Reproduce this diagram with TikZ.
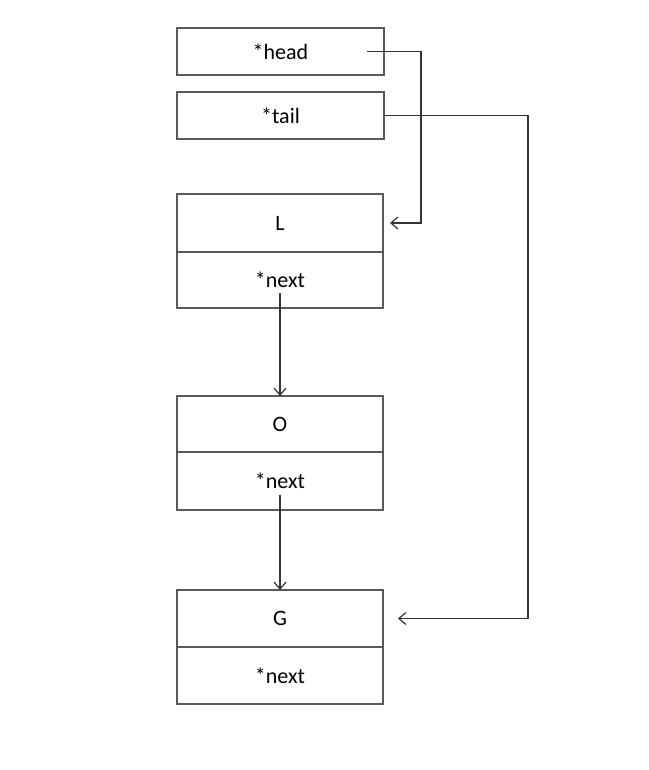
\documentclass[tikz,border=0pt]{standalone}
\usepackage{fontspec}
\setmainfont{Carlito}
\usetikzlibrary{arrows.meta,calc}
\begin{document}
\begin{tikzpicture}[x=1pt,y=-1pt,
  box/.style={draw=black!65,line width=1.2pt,minimum width=207pt,inner sep=0pt,outer sep=0pt,anchor=north west,font=\fontsize{22}{24}\selectfont},
  link/.style={draw=black!80,line width=1.2pt,-{Straight Barb[length=7pt,width=12pt]}}]
\useasboundingbox (0,0) rectangle (648,770);
% head / tail
\node[box,minimum height=47pt] (head) at (177,28) {*head};
\node[box,minimum height=47pt] (tail) at (177,92) {*tail};
% list nodes
\node[box,minimum height=58pt,minimum width=206pt] (L) at (177,194) {L};
\node[box,minimum height=56pt,minimum width=206pt] (Ln) at (L.south west) {*next};
\node[box,minimum height=56pt,minimum width=206pt] (O) at (177,396) {O};
\node[box,minimum height=58pt,minimum width=206pt] (On) at (O.south west) {*next};
\node[box,minimum height=57pt,minimum width=206pt] (G) at (177,590) {G};
\node[box,minimum height=57pt,minimum width=206pt] (Gn) at (G.south west) {*next};
% connectors
\coordinate (hs) at ($(head.east)+(-17,0)$);
\draw[link] (hs) -- ++(54,0) |- ($(L.east)+(7,0)$);
\draw[link] (tail.east) -- ++(144,0) |- ($(G.east)+(15,0)$);
\draw[link] ($(Ln.center)+(0,13)$) -- (O.north);
\draw[link] ($(On.center)+(0,14)$) -- (G.north);
\end{tikzpicture}
\end{document}
